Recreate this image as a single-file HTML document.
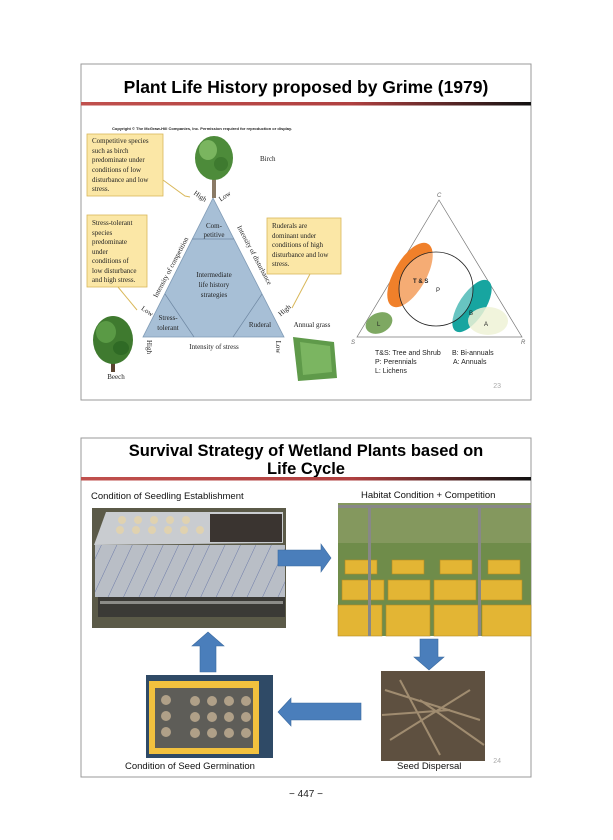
<!DOCTYPE html>
<html><head><meta charset="utf-8"><style>
html,body{margin:0;padding:0;background:#fff}
svg{display:block}
</style></head><body>
<svg width="613" height="840" viewBox="0 0 613 840" xmlns="http://www.w3.org/2000/svg" font-family="Liberation Sans, sans-serif">
<defs>
<linearGradient id="rl" x1="0" x2="1"><stop offset="0" stop-color="#c0504d"/><stop offset="0.6" stop-color="#b04040"/><stop offset="1" stop-color="#111"/></linearGradient>
<pattern id="diag" width="14" height="52" patternUnits="userSpaceOnUse" patternTransform="rotate(25)"><rect width="14" height="52" fill="#b9bec6"/><line x1="0" y1="0" x2="0" y2="52" stroke="#5a6aa0" stroke-width="0.8"/></pattern>
</defs>
<!-- Slide 1 -->
<rect x="81" y="64" width="450" height="336" fill="#fff" stroke="#999" stroke-width="1"/>
<text x="306" y="93" font-size="17.5" font-weight="bold" text-anchor="middle">Plant Life History proposed by Grime (1979)</text>
<rect x="81" y="102" width="450" height="3.5" fill="url(#rl)"/>
<text x="112" y="130" font-size="4" font-weight="bold" fill="#222">Copyright © The McGraw-Hill Companies, Inc. Permission required for reproduction or display.</text>
<rect x="87" y="134" width="76" height="62" fill="#fbe7a6" stroke="#d9b85a" stroke-width="0.8"/>
<g font-family="Liberation Serif, serif" font-size="7" fill="#222">
<text x="92" y="143">Competitive species</text><text x="92" y="153">such as birch</text><text x="92" y="162">predominate under</text><text x="92" y="172">conditions of low</text><text x="92" y="182">disturbance and low</text><text x="92" y="191">stress.</text>
</g>
<polyline points="163,180 185,196 190,197" fill="none" stroke="#d9b85a" stroke-width="1"/>
<rect x="87" y="215" width="60" height="72" fill="#fbe7a6" stroke="#d9b85a" stroke-width="0.8"/>
<g font-family="Liberation Serif, serif" font-size="7" fill="#222">
<text x="92" y="225">Stress-tolerant</text><text x="92" y="235">species</text><text x="92" y="244">predominate</text><text x="92" y="254">under</text><text x="92" y="263">conditions of</text><text x="92" y="273">low disturbance</text><text x="92" y="282">and high stress.</text>
</g>
<polyline points="118,287 137,310" fill="none" stroke="#d9b85a" stroke-width="1"/>
<rect x="267" y="218" width="74" height="56" fill="#fbe7a6" stroke="#d9b85a" stroke-width="0.8"/>
<g font-family="Liberation Serif, serif" font-size="7" fill="#222">
<text x="272" y="228">Ruderals are</text><text x="272" y="238">dominant under</text><text x="272" y="247">conditions of high</text><text x="272" y="257">disturbance and low</text><text x="272" y="266">stress.</text>
</g>
<polyline points="310,274 292,308" fill="none" stroke="#d9b85a" stroke-width="1"/>
<polygon points="213,198 143,337 284,337" fill="#a7bfd6" stroke="#7f9ab5" stroke-width="0.8"/>
<g stroke="#6f88a3" stroke-width="0.7">
<line x1="192" y1="239" x2="234" y2="239"/>
<line x1="165" y1="294" x2="194" y2="337"/>
<line x1="262" y1="294" x2="233" y2="337"/>
</g>
<g font-family="Liberation Serif, serif" font-size="7" fill="#222" text-anchor="middle">
<text x="214" y="228">Com-</text><text x="214" y="237">petitive</text>
<text x="214" y="277">Intermediate</text><text x="214" y="287">life history</text><text x="214" y="297">strategies</text>
<text x="168" y="320">Stress-</text><text x="168" y="330">tolerant</text>
<text x="260" y="327">Ruderal</text>
<text x="214" y="349">Intensity of stress</text>
<text x="312" y="327">Annual grass</text>
<text x="260" y="161" text-anchor="start">Birch</text>
<text x="116" y="379">Beech</text>
<text transform="translate(157,298) rotate(-62)" text-anchor="start">Intensity of competition</text>
<text transform="translate(237,227) rotate(62)" text-anchor="start">Intensity of disturbance</text>
<text transform="translate(199,198) rotate(35)">High</text>
<text transform="translate(226,198) rotate(-35)">Low</text>
<text transform="translate(146,313) rotate(35)">Low</text>
<text transform="translate(286,312) rotate(-40)">High</text>
<text transform="translate(147,347) rotate(90)">High</text>
<text transform="translate(276,347) rotate(90)">Low</text>
</g>
<!-- trees -->
<rect x="212" y="170" width="4" height="28" fill="#8a7a65"/>
<ellipse cx="214" cy="158" rx="19" ry="22" fill="#4d8b3a"/>
<ellipse cx="208" cy="150" rx="9" ry="10" fill="#7ab55f"/>
<ellipse cx="221" cy="164" rx="7" ry="7" fill="#3e7a2f"/>
<rect x="111" y="350" width="4" height="22" fill="#5a4330"/>
<ellipse cx="113" cy="340" rx="20" ry="24" fill="#3f7a2f"/>
<ellipse cx="106" cy="332" rx="10" ry="11" fill="#5a9a45"/>
<ellipse cx="121" cy="348" rx="8" ry="7" fill="#2f6a25"/>
<polygon points="293,337 334,342 337,378 298,381" fill="#5f9a4a"/>
<polygon points="300,342 330,346 332,372 303,375" fill="#7bb561"/>
<!-- right triangle -->
<polygon points="439,200 357,337 522,337" fill="none" stroke="#777" stroke-width="0.7"/>
<ellipse cx="410" cy="275" rx="16" ry="36" transform="rotate(30 410 275)" fill="#f0802a"/>
<ellipse cx="472" cy="306" rx="13" ry="30" transform="rotate(33 472 306)" fill="#17a5a0"/>
<ellipse cx="488" cy="321" rx="20" ry="14" fill="#eef2d6" opacity="0.85"/>
<ellipse cx="379" cy="323" rx="14" ry="10" transform="rotate(-25 379 323)" fill="#7ea862"/>
<circle cx="436" cy="289" r="37" fill="#fff" fill-opacity="0.35" stroke="#222" stroke-width="0.8"/>
<g font-size="6" fill="#222">
<text x="413" y="283" font-weight="bold">T &amp; S</text>
<text x="436" y="292">P</text>
<text x="469" y="315">B</text>
<text x="484" y="326">A</text>
<text x="377" y="326">L</text>
<text x="437" y="197" font-style="italic" fill="#666">C</text>
<text x="351" y="344" font-style="italic" fill="#666">S</text>
<text x="521" y="344" font-style="italic" fill="#666">R</text>
</g>
<g font-size="7" fill="#222">
<text x="375" y="355">T&amp;S: Tree and Shrub</text><text x="452" y="355">B: Bi-annuals</text>
<text x="375" y="364">P: Perennials</text><text x="453" y="364">A: Annuals</text>
<text x="375" y="373">L: Lichens</text>
</g>
<text x="501" y="388" font-size="7" fill="#aaa" text-anchor="end">23</text>

<!-- Slide 2 -->
<rect x="81" y="438" width="450" height="339" fill="#fff" stroke="#999" stroke-width="1"/>
<text x="306" y="456" font-size="16.5" font-weight="bold" text-anchor="middle">Survival Strategy of Wetland Plants based on</text>
<text x="306" y="474" font-size="16.5" font-weight="bold" text-anchor="middle">Life Cycle</text>
<rect x="81" y="477" width="450" height="3.5" fill="url(#rl)"/>
<g font-size="9.5" fill="#111">
<text x="91" y="499">Condition of Seedling Establishment</text>
<text x="361" y="498">Habitat Condition + Competition</text>
<text x="125" y="769">Condition of Seed Germination</text>
<text x="397" y="769">Seed Dispersal</text>
</g>
<text x="501" y="763" font-size="7" fill="#aaa" text-anchor="end">24</text>
<!-- image 1 -->
<rect x="92" y="508" width="194" height="120" fill="#5b5a48"/>
<polygon points="106,512 283,512 283,543 94,545" fill="#c9ccd0"/>
<rect x="95" y="545" width="190" height="52" fill="url(#diag)"/>
<rect x="98" y="597" width="187" height="20" fill="#3b3a36"/>
<rect x="100" y="601" width="183" height="3" fill="#8c8c88"/>
<rect x="210" y="514" width="72" height="28" fill="#3a3430"/>
<g fill="#e0d2b0"><circle cx="122" cy="520" r="4"/><circle cx="138" cy="520" r="4"/><circle cx="154" cy="520" r="4"/><circle cx="170" cy="520" r="4"/><circle cx="186" cy="520" r="4"/><circle cx="120" cy="530" r="4"/><circle cx="136" cy="530" r="4"/><circle cx="152" cy="530" r="4"/><circle cx="168" cy="530" r="4"/><circle cx="184" cy="530" r="4"/><circle cx="200" cy="530" r="4"/></g>
<!-- image 2 -->
<rect x="338" y="503" width="193" height="133" fill="#6f8c4a"/>
<rect x="338" y="503" width="193" height="40" fill="#84985e"/>
<g fill="#e3b534" stroke="#b58a20" stroke-width="0.6">
<rect x="342" y="580" width="42" height="20"/><rect x="388" y="580" width="42" height="20"/><rect x="434" y="580" width="42" height="20"/><rect x="480" y="580" width="42" height="20"/>
<rect x="338" y="605" width="44" height="31"/><rect x="386" y="605" width="44" height="31"/><rect x="434" y="605" width="44" height="31"/><rect x="482" y="605" width="49" height="31"/>
<rect x="345" y="560" width="32" height="14"/><rect x="392" y="560" width="32" height="14"/><rect x="440" y="560" width="32" height="14"/><rect x="488" y="560" width="32" height="14"/>
</g>
<rect x="338" y="505" width="193" height="3" fill="#888"/>
<rect x="368" y="505" width="3" height="131" fill="#888"/>
<rect x="478" y="505" width="3" height="131" fill="#888"/>
<!-- image 3 -->
<rect x="381" y="671" width="104" height="90" fill="#5e5040"/>
<g stroke="#a08c70" stroke-width="2"><line x1="385" y1="690" x2="480" y2="720"/><line x1="390" y1="740" x2="470" y2="690"/><line x1="400" y1="680" x2="440" y2="755"/><line x1="420" y1="700" x2="484" y2="745"/><line x1="382" y1="715" x2="450" y2="710"/></g>
<!-- image 4 -->
<rect x="146" y="675" width="127" height="83" fill="#2f4a66"/>
<rect x="149" y="681" width="110" height="73" fill="#f2c13e"/>
<rect x="155" y="688" width="98" height="60" fill="#5e5d58"/>
<g fill="#b0a088"><circle cx="166" cy="700" r="5"/><circle cx="166" cy="716" r="5"/><circle cx="166" cy="732" r="5"/>
<circle cx="195" cy="701" r="5"/><circle cx="212" cy="701" r="5"/><circle cx="229" cy="701" r="5"/><circle cx="246" cy="701" r="5"/>
<circle cx="195" cy="717" r="5"/><circle cx="212" cy="717" r="5"/><circle cx="229" cy="717" r="5"/><circle cx="246" cy="717" r="5"/>
<circle cx="195" cy="733" r="5"/><circle cx="212" cy="733" r="5"/><circle cx="229" cy="733" r="5"/><circle cx="246" cy="733" r="5"/></g>
<!-- arrows -->
<g fill="#4a7ebb" stroke="#3a6aa0" stroke-width="0.6">
<polygon points="278,550 321,550 321,544 331,558 321,572 321,566 278,566"/>
<polygon points="420,639 438,639 438,657 444,657 429,670 414,657 420,657"/>
<polygon points="361,703 361,720 291,720 291,726 278,712 291,698 291,703"/>
<polygon points="200,672 216,672 216,646 224,646 208,632 192,646 200,646"/>
</g>
<text x="306" y="797" font-size="10" text-anchor="middle" fill="#222">− 447 −</text>
</svg>
</body></html>
